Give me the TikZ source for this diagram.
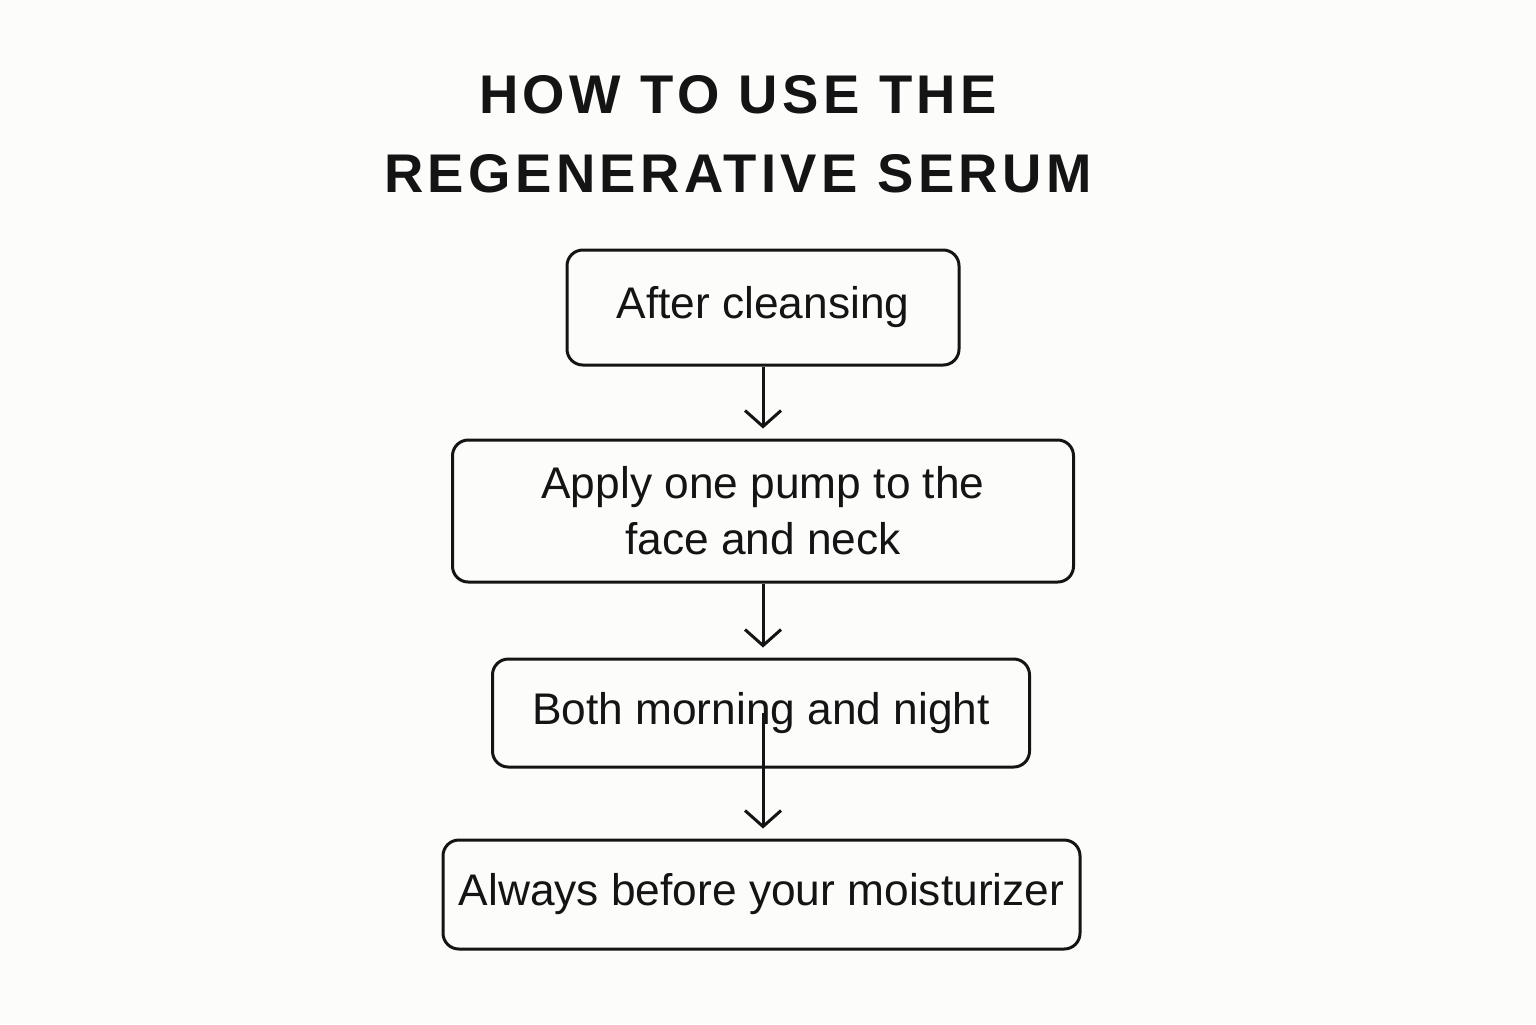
\documentclass[tikz,border=0pt]{standalone}
\usepackage{fontspec}
\setmainfont{Liberation Sans}
\newfontfamily\titlefont[LetterSpace=8]{Liberation Sans}
\usetikzlibrary{arrows.meta}
\usetikzlibrary{positioning}
\definecolor{paper}{RGB}{252, 252, 250}
\definecolor{ink}{RGB}{20, 20, 20}
\tikzset{
  stage/.style={draw=ink, line width=0.85pt, rounded corners=4.5pt, align=center,
               font=\fontsize{12.6}{16}\selectfont, text=ink, inner sep=0pt},
  flow/.style={draw=ink, line width=0.85pt, -{Straight Barb[length=1.6mm,width=3.6mm]}, shorten >=0.1cm}
}
\begin{document}
\begin{tikzpicture}
  \fill[paper] (0,0) rectangle (15.36,-10.24);
  \node[font=\titlefont\bfseries\fontsize{15.5}{19}\selectfont, text=ink, align=center] (title) at (7.38,-1.34)
       {HOW TO USE THE\\[0.12cm]REGENERATIVE SERUM};
  \node[stage, minimum width=3.92cm, minimum height=1.15cm] (cleanse) at (7.63,-3.075) {After cleansing};
  \node[stage, minimum width=6.21cm, minimum height=1.42cm] (apply)   at (7.63,-5.11) {Apply one pump to the\\face and neck};
  \node[stage, minimum width=5.37cm, minimum height=1.08cm] (daily)   at (7.61,-7.13) {Both morning and night};
  \node[stage, minimum width=6.37cm, minimum height=1.09cm] (moist)   at (7.615,-8.945) {Always before your moisturizer};
  \draw[flow] (cleanse) -- (apply);
  \draw[flow] (apply) -- (apply |- daily.north);
  \draw[flow] (daily -| apply) -- (apply |- moist.north);
\end{tikzpicture}
\end{document}
